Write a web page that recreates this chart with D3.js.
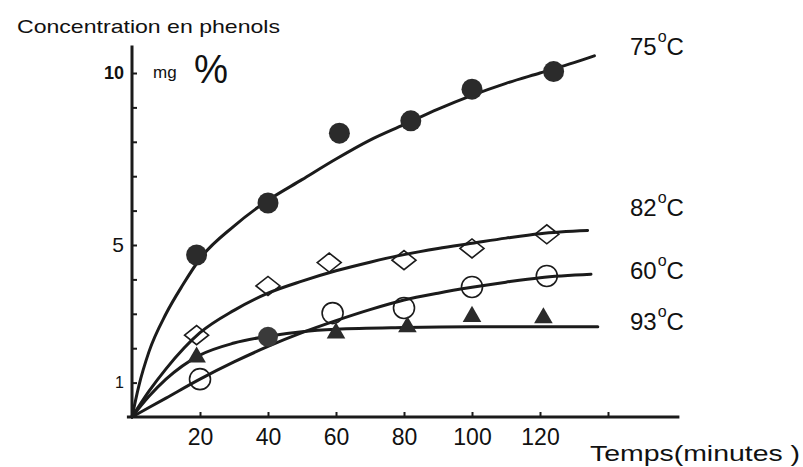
<!DOCTYPE html>
<html>
<head>
<meta charset="utf-8">
<script src="https://cdn.jsdelivr.net/npm/d3@7"></script>
<style>
  html, body { margin: 0; padding: 0; background: #fff; }
  svg { display: block; }
  text { font-family: "Liberation Sans", Arial, sans-serif; fill: #111; }
</style>
</head>
<body>
<svg id="chart" width="803" height="467"></svg>
<script>
// Phenol concentration (mg %) released over time at four temperatures.

// Axis ticks
const xTickValues = [20, 40, 60, 80, 100, 120, 140];
const xTickLabels = ["20", "40", "60", "80", "100", "120"];
const yTickValues = [1, 2, 3, 4, 5, 6, 7, 8, 9, 10];
const yTickLabels = ["1", "5", "10"];

// Measured points (time in minutes, concentration in mg %)
const times75 = [19, 40, 61, 82, 100, 124];
const values75 = [4.71, 6.22, 8.25, 8.61, 9.53, 10.04];
const times82 = [19, 40, 58, 80, 100, 122];
const values82 = [2.38, 3.81, 4.49, 4.56, 4.90, 5.31];
const times60 = [20, 59, 80, 100, 122];
const values60 = [1.10, 3.02, 3.17, 3.78, 4.10];
const times93 = [19, 60, 81, 100, 121];
const values93 = [1.74, 2.44, 2.62, 2.92, 2.88];
// filled point at 40 min on the 93 °C curve
const timesShared = [40];
const valuesShared = [2.33];

// Smoothed kinetic curves
const curveTimes75 = [0, 2, 5, 10, 15, 20, 30, 40, 50, 60, 70, 80, 90, 100, 110, 120, 130, 136];
const curveValues75 = [0, 0.9, 1.9, 3.0, 3.85, 4.6, 5.55, 6.3, 6.9, 7.5, 8.05, 8.5, 8.95, 9.35, 9.7, 10.0, 10.3, 10.5];
const curveTimes82 = [0, 5, 10, 20, 30, 40, 50, 60, 70, 80, 90, 100, 110, 120, 134];
const curveValues82 = [0, 0.75, 1.4, 2.45, 3.1, 3.6, 3.95, 4.25, 4.5, 4.72, 4.9, 5.05, 5.2, 5.33, 5.42];
const curveTimes60 = [0, 10, 20, 30, 40, 50, 60, 70, 80, 90, 100, 110, 120, 135];
const curveValues60 = [0, 0.55, 1.1, 1.6, 2.05, 2.45, 2.8, 3.12, 3.4, 3.6, 3.77, 3.92, 4.05, 4.15];
const curveTimes93 = [0, 5, 10, 20, 30, 40, 50, 60, 80, 100, 120, 137];
const curveValues93 = [0, 0.6, 1.1, 1.8, 2.15, 2.35, 2.48, 2.55, 2.6, 2.62, 2.62, 2.62];

// Curve labels
const curveLabels = ["75", "82", "60", "93"];
const curveLabelValues = [10.6, 6.0, 4.1, 2.6];

const ink = "#1b1b1b";
const svg = d3.select("#chart");

const x = d3.scaleLinear().domain([0, 140]).range([132, 608]);
const y = d3.scaleLinear().domain([0, 10]).range([417, 73]);

// ---- axes ----
const xAxis = d3.axisBottom(x)
  .tickValues(xTickValues)
  .tickSize(-5)
  .tickSizeOuter(0)
  .tickPadding(12)
  .tickFormat((d, i) => xTickLabels[i] || "");
const gx = svg.append("g").attr("transform", `translate(0,${y(0)})`).call(xAxis);
gx.select(".domain").remove();
gx.selectAll(".tick line").attr("stroke", ink).attr("stroke-width", 2);
gx.selectAll(".tick text").attr("font-size", 23).attr("fill", ink)
  .attr("font-family", "'Liberation Sans', Arial, sans-serif");
gx.append("line")
  .attr("x1", x(-1.5)).attr("x2", x(161))
  .attr("stroke", ink).attr("stroke-width", 3);

const yAxis = d3.axisLeft(y)
  .tickValues(yTickValues)
  .tickSize(-5)
  .tickSizeOuter(0)
  .tickPadding(8)
  .tickFormat(d => yTickLabels.includes(String(d)) ? String(d) : "");
const gy = svg.append("g").attr("transform", `translate(${x(0)},0)`).call(yAxis);
gy.select(".domain").remove();
gy.selectAll(".tick line").attr("stroke", ink).attr("stroke-width", 2);
gy.selectAll(".tick text").attr("fill", ink)
  .attr("font-family", "'Liberation Sans', Arial, sans-serif")
  .attr("font-size", d => d === 10 ? 18 : (d === 5 ? 21 : 16))
  .attr("font-weight", d => d === 10 ? "bold" : "normal");
gy.append("line")
  .attr("y1", y(0)).attr("y2", y(10.8))
  .attr("stroke", ink).attr("stroke-width", 3);

// ---- axis titles ----
svg.append("text")
  .attr("x", 17).attr("y", 33)
  .attr("font-size", 19)
  .attr("textLength", 263).attr("lengthAdjust", "spacingAndGlyphs")
  .text("Concentration en phenols");

svg.append("text")
  .attr("x", 153).attr("y", 78)
  .attr("font-size", 17)
  .text("mg");
svg.append("text")
  .attr("x", 194).attr("y", 83)
  .attr("font-size", 40)
  .attr("textLength", 34).attr("lengthAdjust", "spacingAndGlyphs")
  .text("%");

svg.append("text")
  .attr("x", 590).attr("y", 461)
  .attr("font-size", 22)
  .attr("textLength", 210).attr("lengthAdjust", "spacingAndGlyphs")
  .text("Temps(minutes )");

// ---- curves ----
const line = d3.line()
  .x(d => x(d[0]))
  .y(d => y(d[1]))
  .curve(d3.curveMonotoneX);

const curves = [
  d3.zip(curveTimes75, curveValues75),
  d3.zip(curveTimes82, curveValues82),
  d3.zip(curveTimes60, curveValues60),
  d3.zip(curveTimes93, curveValues93)
];
svg.append("g").selectAll("path")
  .data(curves)
  .join("path")
  .attr("d", line)
  .attr("fill", "none")
  .attr("stroke", ink)
  .attr("stroke-width", 3)
  .attr("stroke-linecap", "round");

// ---- markers ----
const markers = svg.append("g");

// 75 °C: filled circles
markers.selectAll(".m75")
  .data(d3.zip(times75, values75))
  .join("circle")
  .attr("cx", d => x(d[0])).attr("cy", d => y(d[1]))
  .attr("r", 10.5)
  .attr("fill", "#2b2b2b");

// filled circle at 40 min
markers.selectAll(".mShared")
  .data(d3.zip(timesShared, valuesShared))
  .join("circle")
  .attr("cx", d => x(d[0])).attr("cy", d => y(d[1]))
  .attr("r", 10)
  .attr("fill", "#3a3a3a");

// 82 °C: open diamonds (wider than tall)
const diamond = "M-12,0L0,-9.5L12,0L0,9.5Z";
markers.selectAll(".m82")
  .data(d3.zip(times82, values82))
  .join("path")
  .attr("transform", d => `translate(${x(d[0])},${y(d[1])})`)
  .attr("d", diamond)
  .attr("fill", "none")
  .attr("stroke", ink)
  .attr("stroke-width", 1.6);

// 60 °C: open circles
markers.selectAll(".m60")
  .data(d3.zip(times60, values60))
  .join("circle")
  .attr("cx", d => x(d[0])).attr("cy", d => y(d[1]))
  .attr("r", 10.5)
  .attr("fill", "none")
  .attr("stroke", ink)
  .attr("stroke-width", 1.6);

// 93 °C: filled triangles
const triangle = d3.symbol().type(d3.symbolTriangle).size(150);
markers.selectAll(".m93")
  .data(d3.zip(times93, values93))
  .join("path")
  .attr("transform", d => `translate(${x(d[0])},${y(d[1])})`)
  .attr("d", triangle)
  .attr("fill", "#2b2b2b");

// ---- curve labels ----
const labelG = svg.append("g");
const labelTop = [55, 216, 279, 330];
curveLabels.forEach((lab, i) => {
  const t = labelG.append("text")
    .attr("x", 630)
    .attr("y", labelTop[i])
    .attr("font-size", 24);
  t.append("tspan").text(lab);
  t.append("tspan").attr("font-size", 16).attr("dy", -13).attr("dx", 1).text("o");
  t.append("tspan").attr("dy", 13).text("C");
});
</script>
</body>
</html>
